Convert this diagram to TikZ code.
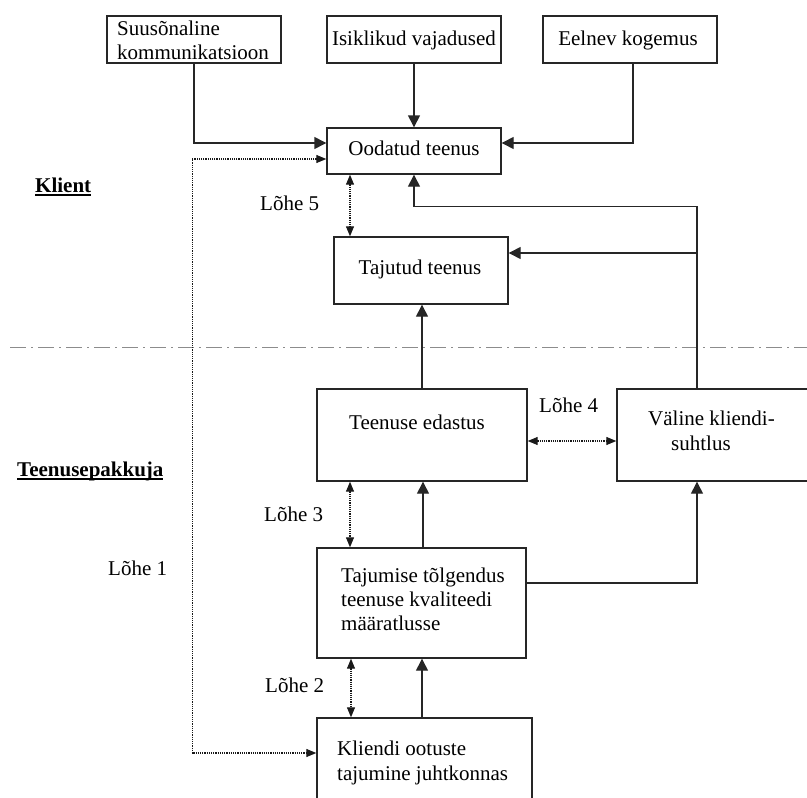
\documentclass[tikz,border=0pt]{standalone}
\usepackage{fontspec}
\setmainfont{Liberation Serif}
\usetikzlibrary{arrows.meta,calc}
\newcommand{\myul}[1]{\setbox0\hbox{#1}\rlap{\vrule height -2.2pt depth 3.8pt width \wd0}\box0}
\begin{document}
\begin{tikzpicture}[x=1pt,y=-1pt,
 box/.style={draw=black!85, line width=1.4pt, rectangle, inner sep=0pt},
 txt/.style={anchor=base west, inner sep=0pt, font=\fontsize{21}{24}\selectfont},
 ctxt/.style={anchor=base, inner sep=0pt, font=\fontsize{21}{24}\selectfont},
 btxt/.style={anchor=base west, inner sep=0pt, font=\fontsize{21}{24}\selectfont\bfseries},
 arr/.style={draw=black!85, line width=1.4pt, -{Triangle[length=12pt,width=12pt]}},
 gap/.style={draw=black!90, line width=1.1pt, dash pattern=on 1.2pt off 1pt,
   {Triangle[length=10pt,width=8pt]}-{Triangle[length=10pt,width=8pt]}},
 sep/.style={draw=black!45, line width=1pt, dash pattern=on 16pt off 5pt on 2pt off 5pt}]
\useasboundingbox (0,0) rectangle (807,798);

% boxes
\node[box, minimum width=174pt, minimum height=47pt] (sk) at (194,39.5) {};
\node[box, minimum width=174pt, minimum height=47pt] (iv) at (414,39.5) {};
\node[box, minimum width=174pt, minimum height=47pt] (ek) at (630,39.5) {};
\node[box, minimum width=174pt, minimum height=46pt] (ot) at (414,151) {};
\node[box, minimum width=174pt, minimum height=67pt] (tt) at (421,270.5) {};
\node[box, minimum width=210pt, minimum height=92pt] (te) at (422,435) {};
\node[box, minimum width=195pt, minimum height=92pt] (vk) at (714.5,435) {};
\node[box, minimum width=209pt, minimum height=110pt] (tg) at (421.5,603) {};
\node[box, minimum width=215pt, minimum height=88pt] (kj) at (424.5,762) {};

% box texts
\node[txt] (sk1) at (117,35) {Suusõnaline};
\node[txt] (sk2) at (117,59) {kommunikatsioon};
\node[ctxt] (ivt) at (414,45) {Isiklikud vajadused};
\node[ctxt] (ekt) at (628,45) {Eelnev kogemus};
\node[ctxt] (ott) at (414,155) {Oodatud teenus};
\node[ctxt] (ttt) at (420,274) {Tajutud teenus};
\node[ctxt] (tet) at (417,429) {Teenuse edastus};
\node[txt] (vk1) at (648,425) {Väline kliendi-};
\node[txt] (vk2) at (671,450) {suhtlus};
\node[txt] (tg1) at (341,582) {Tajumise tõlgendus};
\node[txt] (tg2) at (341,606) {teenuse kvaliteedi};
\node[txt] (tg3) at (341,630) {määratlusse};
\node[txt] (kj1) at (337,755) {Kliendi ootuste};
\node[txt] (kj2) at (337,780) {tajumine juhtkonnas};

% side labels
\node[btxt] (klient) at (35,192) {\myul{Klient}};
\node[btxt] (tp) at (17,476) {\myul{Teenusepakkuja}};
\node[txt] (l1) at (108,575) {Lõhe 1};
\node[txt] (l2) at (265,692) {Lõhe 2};
\node[txt] (l3) at (264,521) {Lõhe 3};
\node[txt] (l4) at (539,412) {Lõhe 4};
\node[txt] (l5) at (260,210) {Lõhe 5};

% separator
\coordinate (sepL) at (10,347);
\coordinate (sepR) at (807,347);
\draw[sep] (sepL) -- (sepR);

% connectors
\draw[arr] (sk.south) |- ($(ot.west)+(0,-8)$);
\draw[arr] (iv.south) -- (ot.north);
\draw[arr] ($(ek.south)+(3,0)$) |- ($(ot.east)+(0,-8)$);
\draw[gap] ($(ot.west)+(0,8)$) -| ($(kj.west)+(-124,-9)$) -- ($(kj.west)+(0,-9)$);
\draw[gap] ($(ot.south)+(-64,0)$) -- ($(tt.north)+(-71,0)$);

\coordinate (vkt) at ($(vk.north)+(-17.5,0)$);
\coordinate (vkb) at ($(vk.south)+(-17.5,0)$);
\draw[arr] (vkt) |- ($(ot.south)+(0,32)$) -- (ot.south);
\draw[arr] (vkt) |- ($(tt.east)+(0,-17.5)$);

\draw[arr] (te.north) -- (te.north |- tt.south);
\draw[gap] ($(te.east)+(0,6)$) -- ($(vk.west)+(0,6)$);
\draw[gap] ($(te.south)+(-72,0)$) -- ($(tg.north)+(-71.5,0)$);
\draw[arr] ($(tg.north)+(1.5,0)$) -- ($(te.south)+(1,0)$);
\draw[arr] ($(tg.east)+(0,-20)$) -| (vkb);
\draw[gap] ($(tg.south)+(-70.5,0)$) -- ($(kj.north)+(-73.5,0)$);
\draw[arr] ($(kj.north)+(-2.5,0)$) -- ($(tg.south)+(0.5,0)$);
\end{tikzpicture}
\end{document}
